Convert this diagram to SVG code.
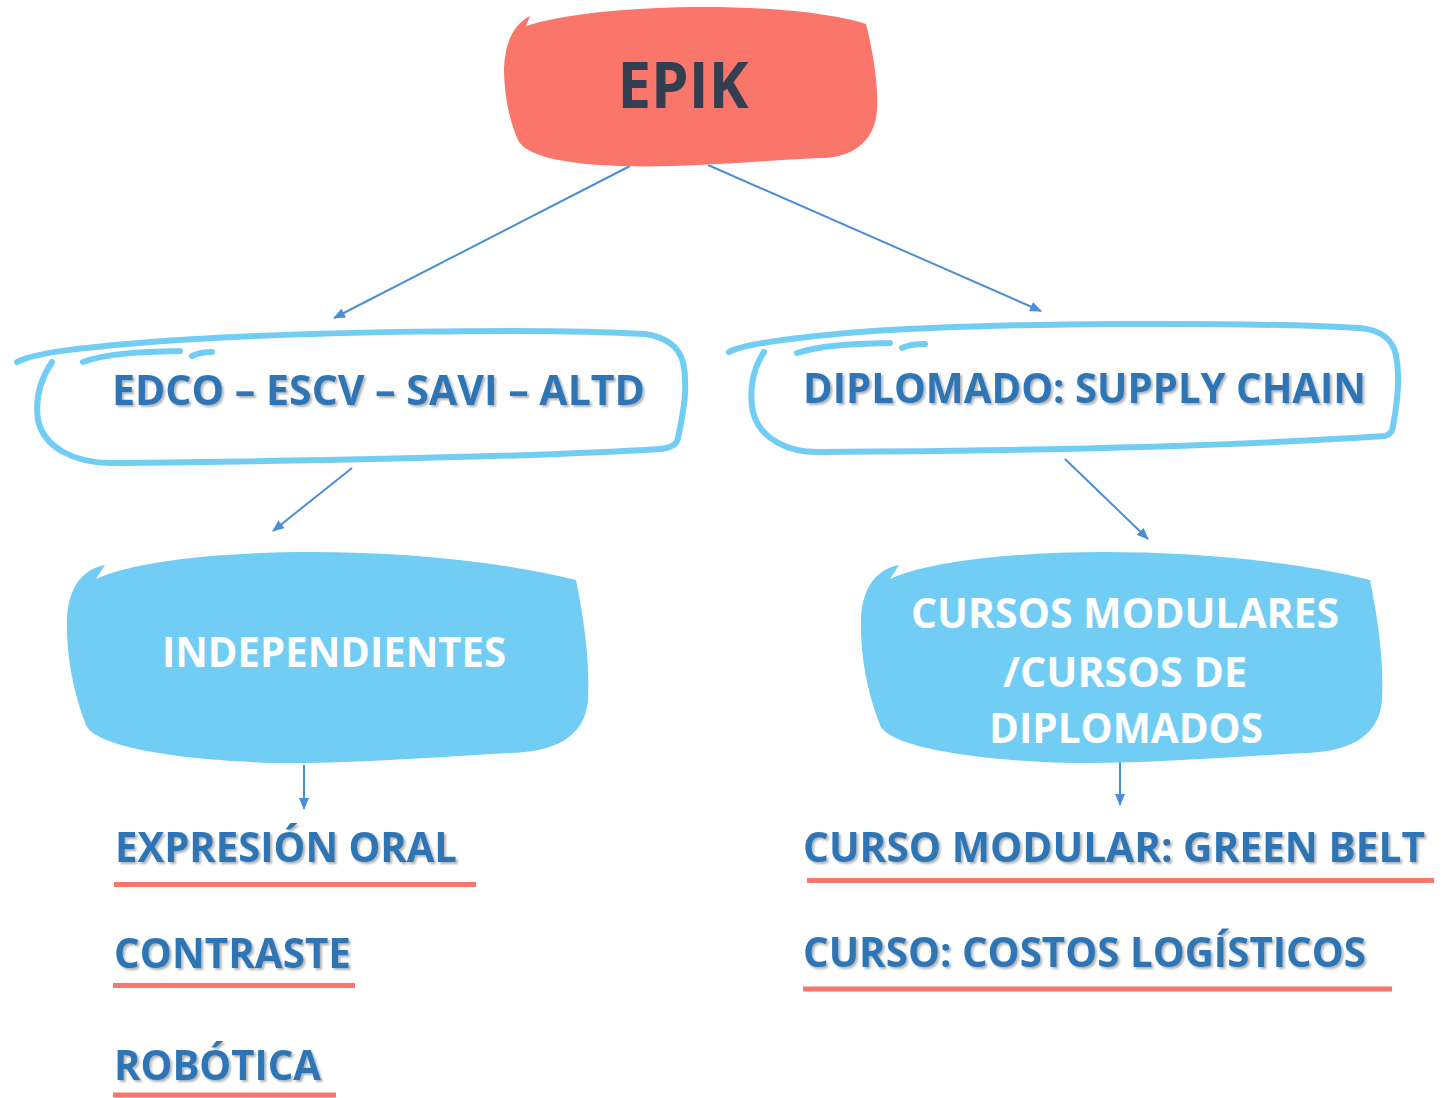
<svg xmlns="http://www.w3.org/2000/svg" width="1450" height="1098" viewBox="0 0 1450 1098">
<style>
.lbl{font-family:"Open Sans","Noto Sans","Liberation Sans",sans-serif;font-weight:700;fill:#2E75B6;font-size:42px}
.wht{font-family:"Open Sans","Noto Sans","Liberation Sans",sans-serif;font-weight:700;fill:#FFFFFF;font-size:42px}
.outline{fill:none;stroke:#72CDF4;stroke-width:6;stroke-linecap:round;stroke-linejoin:round}
.blob{fill:#72CDF4}
.ul{stroke:#FA766A;stroke-width:5}
.conn{stroke:#4A8FD6;stroke-width:2;fill:none}
</style>
<defs>
<filter id="sh" x="-5%" y="-20%" width="110%" height="150%">
<feDropShadow dx="2" dy="2" stdDeviation="1.2" flood-color="#000" flood-opacity="0.3"/>
</filter>
<marker id="arr" viewBox="0 0 12 10" refX="11" refY="5" markerWidth="12" markerHeight="10" markerUnits="userSpaceOnUse" orient="auto">
<path d="M0,0 L12,5 L0,10 Z" fill="#4A8FD6"/>
</marker>
<path id="bshape" d="M105,565 L96,579 C170,545 420,541 576,580 C584,620 590,660 588,700 C585,740 550,752 510,753 C420,758 320,766 250,762 C170,758 95,746 86,725 C72,690 66,650 67,620 C68,590 80,570 105,565 Z"/>
</defs>
<rect width="1450" height="1098" fill="#FFFFFF"/>

<g id="connectors">
<line class="conn" x1="630" y1="166" x2="334" y2="318" marker-end="url(#arr)"/>
<line class="conn" x1="708" y1="165" x2="1041" y2="311" marker-end="url(#arr)"/>
<line class="conn" x1="352" y1="468" x2="273" y2="531" marker-end="url(#arr)"/>
<line class="conn" x1="1065" y1="459" x2="1148" y2="539" marker-end="url(#arr)"/>
<line class="conn" x1="304" y1="765" x2="304" y2="809" marker-end="url(#arr)"/>
<line class="conn" x1="1120" y1="760" x2="1120" y2="805" marker-end="url(#arr)"/>
</g>

<g id="epik">
<path d="M530,16 L526,26 C600,2 790,0 866,24 C874,55 880,95 876,118 C870,148 845,158 820,158 C740,162 680,168 620,166 C560,164 525,155 518,140 C508,118 504,90 504,68 C505,45 512,25 530,16 Z" fill="#FA766A"/>
<text x="683" y="108" text-anchor="middle" font-family="'Open Sans','Noto Sans','Liberation Sans',sans-serif" font-weight="700" font-size="64" fill="#333F50" textLength="131" lengthAdjust="spacingAndGlyphs">EPIK</text>
</g>

<g id="edco">
<path class="outline" d="M52,362 C40,380 35,400 38,420 C44,448 75,463 111,463 C300,461 520,458 660,449 C672,448 677,444 678,438 C684,410 688,385 683,362 C678,345 665,337 645,334 C550,328 300,331 150,342 C90,347 35,352 17,362"/>
<path class="outline" d="M83,362 C110,352 150,352 180,351"/>
<path class="outline" d="M192,356 C198,353 205,352 212,352"/>
<text class="lbl" x="112" y="405" filter="url(#sh)" textLength="533" lengthAdjust="spacingAndGlyphs">EDCO – ESCV – SAVI – ALTD</text>
</g>

<g id="diplomado">
<path class="outline" d="M764,352 C752,370 749,392 753,412 C760,440 790,453 821,452 C1000,451 1220,447 1385,436 C1391,434 1393,430 1393,426 C1398,400 1400,375 1396,355 C1392,338 1380,330 1360,328 C1250,322 1000,322 860,332 C800,337 745,343 729,352"/>
<path class="outline" d="M797,353 C825,344 860,344 890,343"/>
<path class="outline" d="M902,348 C908,345 916,344 925,344"/>
<text class="lbl" x="803" y="403" filter="url(#sh)" textLength="563" lengthAdjust="spacingAndGlyphs">DIPLOMADO: SUPPLY CHAIN</text>
</g>

<g id="independientes">
<use href="#bshape" class="blob"/>
<text class="wht" x="162" y="667" textLength="344" lengthAdjust="spacingAndGlyphs">INDEPENDIENTES</text>
</g>

<g id="cursos">
<use href="#bshape" class="blob" transform="translate(794,0)"/>
<text class="wht" x="1125" y="628" text-anchor="middle" textLength="428" lengthAdjust="spacingAndGlyphs">CURSOS MODULARES</text>
<text class="wht" x="1125" y="687" text-anchor="middle" textLength="244" lengthAdjust="spacingAndGlyphs">/CURSOS DE</text>
<text class="wht" x="1126" y="743" text-anchor="middle" textLength="274" lengthAdjust="spacingAndGlyphs">DIPLOMADOS</text>
</g>

<g id="expresion">
<text class="lbl" x="115" y="862" filter="url(#sh)" textLength="342" lengthAdjust="spacingAndGlyphs">EXPRESIÓN ORAL</text>
<line class="ul" x1="114" y1="884.5" x2="476" y2="884.5"/>
</g>
<g id="contraste">
<text class="lbl" x="114" y="968" filter="url(#sh)" textLength="237" lengthAdjust="spacingAndGlyphs">CONTRASTE</text>
<line class="ul" x1="113" y1="985.5" x2="355" y2="985.5"/>
</g>
<g id="robotica">
<text class="lbl" x="114" y="1080" filter="url(#sh)" textLength="207" lengthAdjust="spacingAndGlyphs">ROBÓTICA</text>
<line class="ul" x1="113" y1="1095" x2="336" y2="1095"/>
</g>
<g id="greenbelt">
<text class="lbl" x="803" y="862" filter="url(#sh)" textLength="622" lengthAdjust="spacingAndGlyphs">CURSO MODULAR: GREEN BELT</text>
<line class="ul" x1="807" y1="880.5" x2="1434" y2="880.5"/>
</g>
<g id="costos">
<text class="lbl" x="803" y="967" filter="url(#sh)" textLength="563" lengthAdjust="spacingAndGlyphs">CURSO: COSTOS LOGÍSTICOS</text>
<line class="ul" x1="803" y1="989" x2="1392" y2="989"/>
</g>
</svg>
